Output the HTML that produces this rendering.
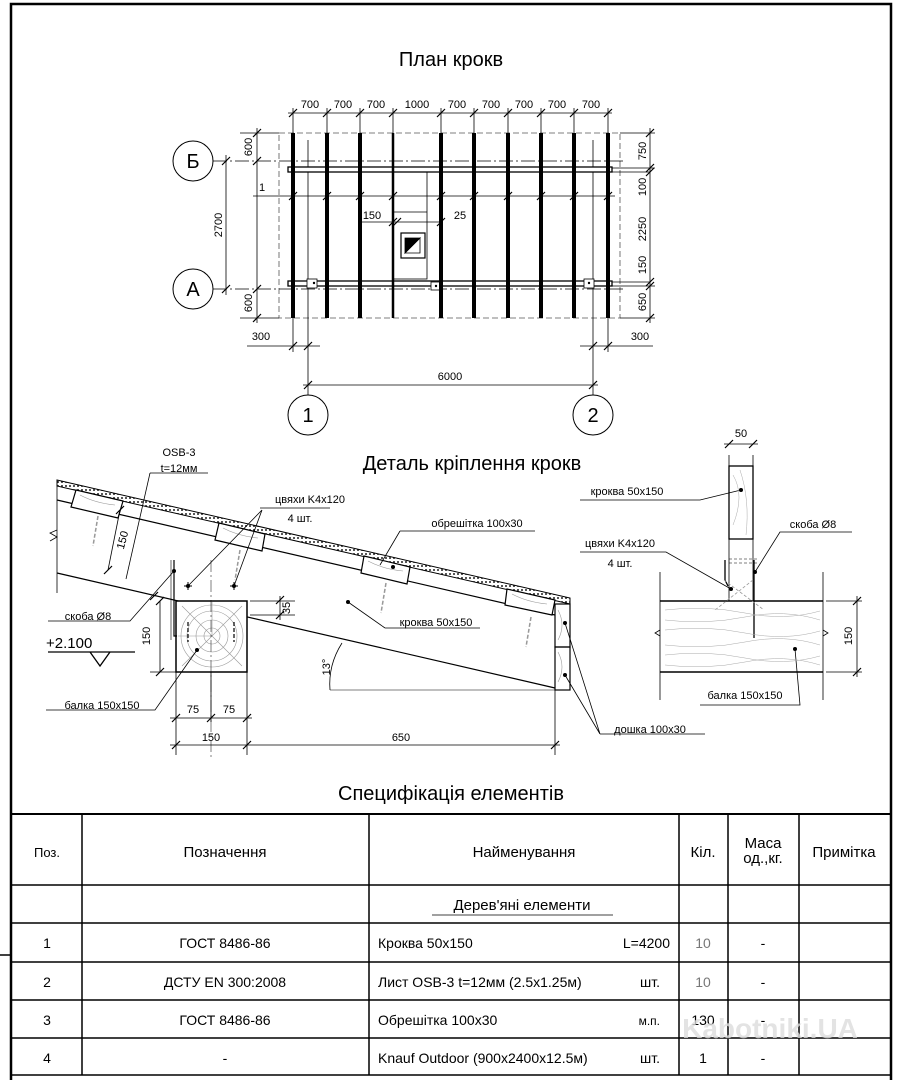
<!DOCTYPE html>
<html><head><meta charset="utf-8">
<style>
html,body{margin:0;padding:0;background:#fff;}
svg{display:block;font-family:"Liberation Sans","DejaVu Sans",sans-serif;}
</style></head>
<body>
<svg width="912" height="1080" viewBox="0 0 912 1080" xmlns="http://www.w3.org/2000/svg">
<defs>
<pattern id="osb" width="4" height="4" patternUnits="userSpaceOnUse">
<rect width="4" height="4" fill="#fff"/><circle cx="2" cy="2" r="1" fill="#222"/>
</pattern>
</defs>
<g stroke="#000" fill="none">
<path d="M11 1080 V4 H891 V1080" stroke-width="2.5"/>
<line x1="0" y1="955" x2="11" y2="955" stroke-width="1.5"/>
</g>

<text x="451" y="66" font-size="20" text-anchor="middle">План крокв</text>
<g stroke="#000" fill="none" stroke-width="0.8">
<rect x="279" y="133" width="341" height="185" stroke-dasharray="6 3" stroke="#555"/>
<line x1="213" y1="161" x2="625" y2="161" stroke-dasharray="14 3 2 3"/>
<line x1="213" y1="289" x2="625" y2="289" stroke-dasharray="14 3 2 3"/>
<line x1="308" y1="140" x2="308" y2="395"/>
<line x1="593" y1="140" x2="593" y2="395"/>
<line x1="253" y1="196" x2="615" y2="196"/>
<rect x="393" y="168" width="34" height="111"/>
<line x1="393" y1="212" x2="427" y2="212"/>
<line x1="360" y1="222" x2="440" y2="222"/>
<rect x="401" y="233" width="24" height="25" stroke-width="1.2"/>
<path d="M405 253 L420 238 V253Z" fill="#fff" stroke="#000"/>
<path d="M405 238 H420 L405 253Z" fill="#000"/>
<rect x="288" y="167" width="324" height="5" fill="#fff" stroke-width="1.3"/>
<rect x="288" y="281" width="324" height="5" fill="#fff" stroke-width="1.3"/>
<rect x="307" y="279" width="10" height="9" fill="#fff"/>
<rect x="431" y="282" width="10" height="8" fill="#fff"/>
<rect x="584" y="279" width="10" height="9" fill="#fff"/>
</g>
<g stroke="#000" stroke-width="4">
<line x1="293" y1="133" x2="293" y2="318"/><line x1="327" y1="133" x2="327" y2="318"/>
<line x1="360" y1="133" x2="360" y2="318"/><line x1="393" y1="133" x2="393" y2="318" stroke-width="2.5"/>
<line x1="441" y1="133" x2="441" y2="318"/><line x1="474" y1="133" x2="474" y2="318"/>
<line x1="508" y1="133" x2="508" y2="318"/><line x1="541" y1="133" x2="541" y2="318"/>
<line x1="574" y1="133" x2="574" y2="318"/><line x1="608" y1="133" x2="608" y2="318"/>
</g>
<g fill="#000"><circle cx="314" cy="283" r="1.2"/><circle cx="436" cy="286" r="1.2"/><circle cx="589" cy="283" r="1.2"/></g>
<g stroke="#000" stroke-width="0.8" fill="none">
<line x1="288" y1="113" x2="612" y2="113"/>
<line x1="293" y1="108" x2="293" y2="133"/><line x1="327" y1="108" x2="327" y2="133"/><line x1="360" y1="108" x2="360" y2="133"/><line x1="393" y1="108" x2="393" y2="133"/><line x1="441" y1="108" x2="441" y2="133"/><line x1="474" y1="108" x2="474" y2="133"/><line x1="508" y1="108" x2="508" y2="133"/><line x1="541" y1="108" x2="541" y2="133"/><line x1="574" y1="108" x2="574" y2="133"/><line x1="608" y1="108" x2="608" y2="133"/>
<line x1="226" y1="155" x2="226" y2="295"/>
<line x1="257" y1="128" x2="257" y2="323"/>
<line x1="240" y1="133" x2="279" y2="133"/><line x1="240" y1="318" x2="279" y2="318"/>
<line x1="650" y1="128" x2="650" y2="323"/>
<line x1="620" y1="133" x2="655" y2="133"/><line x1="620" y1="318" x2="655" y2="318"/>
<line x1="612" y1="168" x2="655" y2="168"/><line x1="612" y1="286" x2="655" y2="286"/>
<line x1="612" y1="172" x2="650" y2="172"/><line x1="612" y1="282" x2="650" y2="282"/>
<line x1="247" y1="346" x2="320" y2="346"/><line x1="580" y1="346" x2="653" y2="346"/>
<line x1="293" y1="318" x2="293" y2="352"/><line x1="608" y1="318" x2="608" y2="352"/>
<line x1="303" y1="385" x2="598" y2="385"/>
</g>
<g stroke="#000" stroke-width="1.2">
<path d="M289 117l8-8M323 117l8-8M356 117l8-8M389 117l8-8M437 117l8-8M470 117l8-8M504 117l8-8M537 117l8-8M570 117l8-8M604 117l8-8"/>
<path d="M222 165l8-8M222 293l8-8M253 137l8-8M253 165l8-8M253 293l8-8M253 322l8-8M646 137l8-8M646 172l8-8M646 176l8-8M646 286l8-8M646 290l8-8M646 322l8-8"/>
<path d="M289 350l8-8M304 350l8-8M589 350l8-8M604 350l8-8M304 389l8-8M589 389l8-8"/>
<path d="M289 200l8-8M323 200l8-8M356 200l8-8M389 200l8-8M437 200l8-8M470 200l8-8M504 200l8-8M537 200l8-8M570 200l8-8M604 200l8-8M389 226l8-8M393 226l8-8M437 226l8-8"/>
</g>
<g font-size="11" text-anchor="middle">
<text x="310" y="108">700</text><text x="343" y="108">700</text><text x="376" y="108">700</text><text x="417" y="108">1000</text><text x="457" y="108">700</text><text x="491" y="108">700</text><text x="524" y="108">700</text><text x="557" y="108">700</text><text x="591" y="108">700</text>
<text x="261" y="340">300</text><text x="640" y="340">300</text><text x="450" y="380">6000</text>
<text x="372" y="219">150</text><text x="460" y="219">25</text>
<text x="262" y="191">1</text>
<text transform="translate(222,225) rotate(-90)">2700</text>
<text transform="translate(252,147) rotate(-90)">600</text>
<text transform="translate(252,303) rotate(-90)">600</text>
<text transform="translate(646,151) rotate(-90)">750</text>
<text transform="translate(646,187) rotate(-90)">100</text>
<text transform="translate(646,229) rotate(-90)">2250</text>
<text transform="translate(646,265) rotate(-90)">150</text>
<text transform="translate(646,302) rotate(-90)">650</text>
</g>
<g stroke="#000" stroke-width="1" fill="#fff">
<circle cx="193" cy="161" r="20"/><circle cx="193" cy="289" r="20"/>
<circle cx="308" cy="415" r="20"/><circle cx="593" cy="415" r="20"/>
</g>
<g font-size="20" text-anchor="middle">
<text x="193" y="168">Б</text><text x="193" y="296">А</text><text x="308" y="422">1</text><text x="593" y="422">2</text>
</g>

<text x="472" y="470" font-size="20" text-anchor="middle">Деталь кріплення крокв</text>
<g stroke="#000" fill="none" stroke-width="1.2">
<path d="M57 480 L570 598 L570 604 L57 486 Z" fill="url(#osb)" stroke-width="1"/>
<line x1="57" y1="500" x2="555" y2="615"/>
<line x1="57" y1="573" x2="555" y2="688"/>
<line x1="57" y1="486" x2="57" y2="593" stroke-width="0.8"/>
<path d="M57 530 l-7 3 l7 4 l-7 4" stroke-width="0.8"/>
<path d="M76 490 L123 501 L118 518 L71 507Z" fill="#fff"/>
<path d="M219 523 L265 534 L262 551 L215 540Z" fill="#fff"/>
<path d="M364 556 L410 567 L407 584 L361 573Z" fill="#fff"/>
<path d="M507 589 L555 600 L552 615 L505 605Z" fill="#fff"/>
<rect x="555" y="604" width="15" height="43"/>
<rect x="555" y="647" width="15" height="43"/>
<rect x="176" y="601" width="71" height="71" fill="#fff" stroke-width="1.5"/>
</g>
<g stroke="#999" stroke-width="0.6" fill="none">
<circle cx="212" cy="636" r="8"/><circle cx="212" cy="636" r="16"/><circle cx="212" cy="636" r="25"/><circle cx="212" cy="636" r="31"/>
<path d="M212 636 l-30 -30 M212 636 l30 -30 M212 636 l-30 30 M212 636 l30 30 M212 636 v-34 M212 636 h-34"/>
<path d="M80 495 q15 8 35 10 M223 528 q15 8 35 10 M368 561 q15 8 35 10 M512 594 q15 8 35 10"/>
<path d="M558 610 q8 15 0 30 M558 652 q8 15 0 30"/>
<path d="M98 516 l-5 30 M240 550 l-5 30 M386 583 l-5 30 M531 617 l-5 30" stroke-dasharray="4 2" stroke-width="1.5"/>
<path d="M188 622 v20 M234 622 v20" stroke="#000" stroke-dasharray="4 2" stroke-width="1.2"/>
</g>
<path d="M174 560 V636 h3" stroke="#000" stroke-width="1.2" fill="none"/>
<path d="M171 560 V640" stroke="#000" stroke-width="0.6"/>
<line x1="211" y1="560" x2="211" y2="760" stroke="#000" stroke-width="0.5" stroke-dasharray="12 3 2 3"/>
<g fill="#000"><circle cx="188" cy="586" r="2"/><circle cx="234" cy="586" r="2"/><circle cx="174" cy="571" r="2"/><circle cx="197" cy="650" r="2"/><circle cx="348" cy="602" r="2"/><circle cx="393" cy="567" r="2"/><circle cx="565" cy="623" r="2"/><circle cx="565" cy="675" r="2"/></g>
<path d="M184 586h8M188 582v8M230 586h8M234 582v8" stroke="#000"/>
<g stroke="#000" stroke-width="0.8" fill="none">
<path d="M150 473 H208 M126 579 L150 473"/>
<path d="M260 508 H330 M262 510 L188 586 M262 510 L234 586"/>
<path d="M400 531 H535 M400 531 L380 565"/>
<path d="M385 628 H480 M385 628 L348 602"/>
<path d="M48 621 H130 L174 571"/>
<path d="M46 710 H155 L197 650"/>
<path d="M600 734 H705 M600 734 L565 623 M600 734 L565 675"/>
<path d="M48 652 H135 M90 652 L100 666 L110 652" stroke-width="1.3"/>
<path d="M176 672 V755 M247 672 V755 M211 672 V722 M555 690 V755"/>
<path d="M170 718 H252 M170 745 H560"/>
<path d="M250 601 H295 M250 615 H295 M280 596 V620"/>
<path d="M160 601 V672 M150 672 H176"/>
<path d="M120 510 L108 570"/>
<path d="M330 690 Q328 665 342 643"/>
<path d="M330 690 H555" stroke-width="0.6"/>
</g>
<path d="M172 722l8-8M207 722l8-8M243 722l8-8M172 749l8-8M243 749l8-8M551 749l8-8M276 604l8-8M276 619l8-8M156 605l8-8M156 676l8-8M116 514l8-8M104 574l8-8M150 600l8-8" stroke="#000" stroke-width="1.2"/>
<g font-size="11" text-anchor="middle">
<text x="179" y="456">OSB-3</text><text x="179" y="472">t=12мм</text>
<text x="310" y="503">цвяхи K4x120</text><text x="300" y="522">4 шт.</text>
<text x="477" y="527">обрешітка 100x30</text>
<text x="436" y="626">кроква 50x150</text>
<text x="88" y="620">скоба Ø8</text>
<text x="102" y="709">балка 150x150</text>
<text x="650" y="733">дошка 100x30</text>
<text x="193" y="713">75</text><text x="229" y="713">75</text>
<text x="211" y="741">150</text><text x="401" y="741">650</text>
<text transform="translate(290,608) rotate(-90)">35</text>
<text transform="translate(150,636) rotate(-90)">150</text>
<text transform="translate(126,541) rotate(-75)">150</text>
<text transform="translate(330,667) rotate(-90)">13°</text>
</g>
<text x="46" y="648" font-size="15">+2.100</text>

<g stroke="#000" fill="none">
<rect x="729" y="466" width="24" height="73" stroke-width="1.3" fill="#fff"/>
<path d="M729 539 V601 M753 539 V601" stroke-width="0.8"/>
<path d="M660 601 H823 M660 672 H823" stroke-width="1.5"/>
<path d="M660 572 V700 M823 572 V700" stroke-width="0.8"/>
<path d="M660 636 l-5 -3 l5 -3 M823 636 l5 -3 l-5 -3" stroke-width="0.8"/>
<path d="M725 560 V580 l3 6 M754 560 V638" stroke-width="1.3"/>
<path d="M729 559 H757 M729 563 H757" stroke-dasharray="3 2" stroke-width="0.6"/>
<path d="M724 580 l40 30 M753 580 l-38 30" stroke="#999" stroke-dasharray="3 2" stroke-width="0.8"/>
<path d="M729 455 V466 M753 455 V466 M724 444 H758" stroke-width="0.8"/>
<path d="M826 601 H862 M826 672 H862 M857 596 V677" stroke-width="0.8"/>
<path d="M725 448l8-8M749 448l8-8M853 605l8-8M853 676l8-8" stroke-width="1.2"/>
<path d="M580 500 H700 L741 490" stroke-width="0.8"/>
<path d="M580 552 H666 L731 589" stroke-width="0.8"/>
<path d="M755 572 L780 532 H852" stroke-width="0.8"/>
<path d="M700 705 H800 L795 649" stroke-width="0.8"/>
</g>
<g stroke="#aaa" stroke-width="0.5" fill="none">
<path d="M665 610 q40 -5 80 3 t75 -2 M665 620 q40 5 80 -3 t75 3 M665 630 q40 -5 80 3 t75 -2 M665 645 q40 5 80 -3 t75 3 M665 655 q40 -5 80 3 t75 -2 M665 665 q40 5 80 -3 t75 3"/>
<path d="M733 475 q12 20 0 50 M740 470 q10 30 6 65"/>
</g>
<g fill="#000"><circle cx="741" cy="490" r="2"/><circle cx="731" cy="589" r="2"/><circle cx="755" cy="572" r="2"/><circle cx="795" cy="649" r="2"/></g>
<g font-size="11" text-anchor="middle">
<text x="741" y="437">50</text>
<text x="627" y="495">кроква 50x150</text>
<text x="620" y="547">цвяхи K4x120</text><text x="620" y="567">4 шт.</text>
<text x="813" y="528">скоба Ø8</text>
<text x="745" y="699">балка 150x150</text>
<text transform="translate(852,636) rotate(-90)">150</text>
</g>

<text x="451" y="800" font-size="20" text-anchor="middle">Специфікація елементів</text>
<g stroke="#000" stroke-width="1.5" fill="none">
<line x1="11" y1="814" x2="891" y2="814" stroke-width="2"/>
<line x1="11" y1="885" x2="891" y2="885"/>
<line x1="11" y1="923" x2="891" y2="923"/>
<line x1="11" y1="962" x2="891" y2="962"/>
<line x1="11" y1="1000" x2="891" y2="1000"/>
<line x1="11" y1="1038" x2="891" y2="1038"/>
<line x1="11" y1="1075" x2="891" y2="1075"/>
<line x1="82" y1="814" x2="82" y2="1075"/>
<line x1="369" y1="814" x2="369" y2="1075"/>
<line x1="679" y1="814" x2="679" y2="1075"/>
<line x1="728" y1="814" x2="728" y2="1075"/>
<line x1="799" y1="814" x2="799" y2="1075"/>
</g>
<g font-size="15" text-anchor="middle">
<text x="47" y="857" font-size="13">Поз.</text>
<text x="225" y="857">Позначення</text>
<text x="524" y="857">Найменування</text>
<text x="703" y="857">Кіл.</text>
<text x="763" y="848">Маса</text><text x="763" y="863">од.,кг.</text>
<text x="844" y="857">Примітка</text>
<text x="522" y="910">Дерев'яні елементи</text>
</g>
<line x1="432" y1="915" x2="613" y2="915" stroke="#000" stroke-width="0.8"/>
<g font-size="14">
<g text-anchor="middle">
<text x="47" y="948">1</text><text x="47" y="987">2</text><text x="47" y="1025">3</text><text x="47" y="1063">4</text>
<text x="225" y="948">ГОСТ 8486-86</text><text x="225" y="987">ДСТУ EN 300:2008</text><text x="225" y="1025">ГОСТ 8486-86</text><text x="225" y="1063">-</text>
<text x="703" y="948" fill="#777">10</text><text x="703" y="987" fill="#777">10</text><text x="703" y="1025">130</text><text x="703" y="1063">1</text>
<text x="763" y="948">-</text><text x="763" y="987">-</text><text x="763" y="1025">-</text><text x="763" y="1063">-</text>
</g>
<text x="378" y="948">Кроква 50x150</text><text x="670" y="948" text-anchor="end">L=4200</text>
<text x="378" y="987">Лист OSB-3 t=12мм (2.5x1.25м)</text><text x="660" y="987" text-anchor="end">шт.</text>
<text x="378" y="1025">Обрешітка 100x30</text><text x="660" y="1025" text-anchor="end" font-size="12">м.п.</text>
<text x="378" y="1063">Knauf Outdoor (900x2400x12.5м)</text><text x="660" y="1063" text-anchor="end">шт.</text>
</g>
<text x="770" y="1038" font-size="28" font-weight="bold" fill="#ddd" text-anchor="middle" opacity="0.8">Kabotniki.UA</text>
</svg>
</body></html>
